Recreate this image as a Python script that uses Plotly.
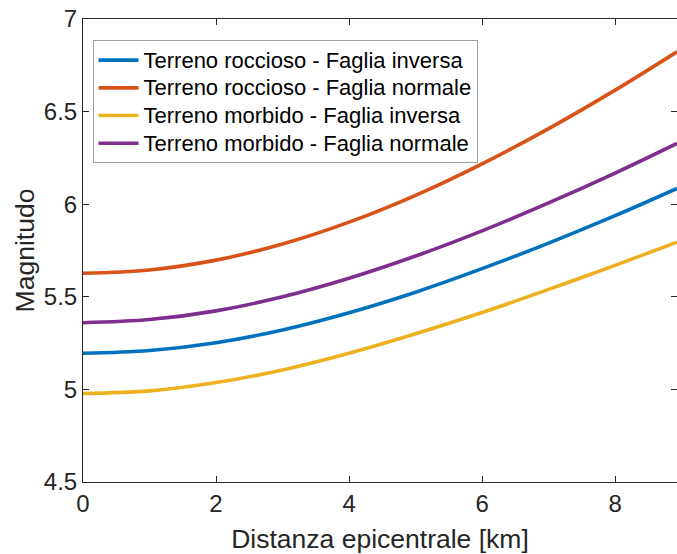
import plotly.graph_objects as go

# Distanza epicentrale [km]
distanza = [0, 1, 2, 3, 4, 5, 6, 7, 8, 8.93]

roccioso_inversa = [5.195, 5.210, 5.252, 5.321, 5.414, 5.525, 5.652, 5.790, 5.938, 6.085]
roccioso_normale = [5.627, 5.645, 5.698, 5.785, 5.903, 6.048, 6.218, 6.408, 6.616, 6.823]
morbido_inversa = [4.978, 4.992, 5.037, 5.105, 5.195, 5.300, 5.415, 5.540, 5.670, 5.795]
morbido_normale = [5.360, 5.377, 5.424, 5.500, 5.600, 5.720, 5.856, 6.007, 6.168, 6.328]

series_names = [
    "Terreno roccioso - Faglia inversa",
    "Terreno roccioso - Faglia normale",
    "Terreno morbido - Faglia inversa",
    "Terreno morbido - Faglia normale",
]
series_values = [roccioso_inversa, roccioso_normale, morbido_inversa, morbido_normale]
colors = ["#0072BD", "#D95319", "#EDB120", "#7E2F8E"]

x_ticks = [0, 2, 4, 6, 8]
y_ticks = [4.5, 5, 5.5, 6, 6.5, 7]

FONT = "Liberation Sans, Arial, sans-serif"
AX = "#262626"

fig = go.Figure()
for name, vals, col in zip(series_names, series_values, colors):
    fig.add_trace(go.Scatter(
        x=distanza, y=vals, mode="lines",
        name='<span style="font-size:22px">' + name + "</span>",
        line=dict(color=col, width=3.6, shape="spline", smoothing=1.0),
    ))

fig.update_layout(
    width=677, height=554,
    margin=dict(l=83, r=0, t=19, b=72),
    paper_bgcolor="white", plot_bgcolor="white",
    font=dict(family=FONT, color=AX, size=24),
    showlegend=True,
    legend=dict(
        x=0.016, y=0.954, xanchor="left", yanchor="top",
        bgcolor="white", bordercolor="#A0A0A0", borderwidth=1,
        font=dict(family=FONT, size=19, color="black"),
        tracegroupgap=0, itemwidth=40,
    ),
    xaxis=dict(
        range=[0, 8.93], tickvals=x_ticks, ticktext=[str(v) for v in x_ticks],
        showgrid=False, zeroline=False, automargin=False,
        showline=True, linecolor=AX, linewidth=1, mirror="ticks",
        ticks="inside", ticklen=6, tickwidth=1, tickcolor=AX,
        tickfont=dict(family=FONT, size=24, color=AX),
        title=dict(text="Distanza epicentrale [km]", font=dict(family=FONT, size=26.5, color=AX), standoff=13),
    ),
    yaxis=dict(
        range=[4.5, 7], tickvals=y_ticks, ticktext=["4.5", "5", "5.5", "6", "6.5", "7"],
        showgrid=False, zeroline=False, automargin=False,
        showline=True, linecolor=AX, linewidth=1, mirror="ticks",
        ticks="inside", ticklen=6, tickwidth=1, tickcolor=AX,
        tickfont=dict(family=FONT, size=24, color=AX),
        title=dict(text="Magnitudo", font=dict(family=FONT, size=26.5, color=AX), standoff=1),
    ),
)

fig.write_html(
    "out.html",
    config={"displayModeBar": False},
    post_script="document.body.style.margin='0px';document.body.style.padding='0px';",
)
